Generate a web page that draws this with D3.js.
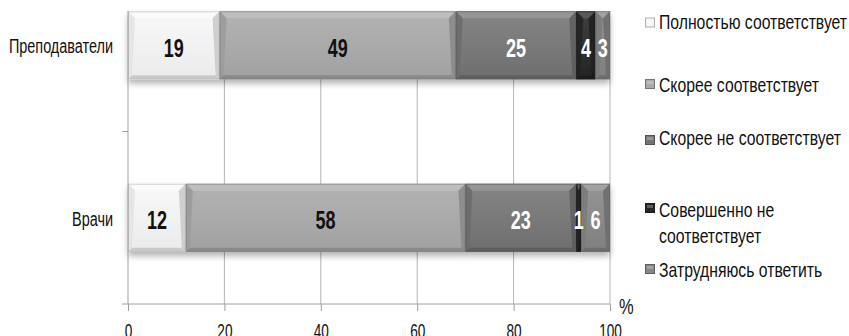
<!DOCTYPE html>
<html><head><meta charset="utf-8">
<script src="https://cdn.jsdelivr.net/npm/d3@7"></script>
<style>
html,body{margin:0;padding:0;background:#fff;}
svg{display:block;}
text{font-family:"Liberation Sans",Arial,sans-serif;}
</style></head>
<body><svg id="c" width="849" height="336"></svg>
<script>
const categories = ["Преподаватели", "Врачи"];
const seriesNames = ["Полностью соответствует", "Скорее соответствует", "Скорее не соответствует", "Совершенно не соответствует", "Затрудняюсь ответить"];
const s1 = [19, 12];
const s2 = [49, 58];
const s3 = [25, 23];
const s4 = [4, 1];
const s5 = [3, 6];
const xTicks = [0, 20, 40, 60, 80, 100];

const seriesValues = [s1, s2, s3, s4, s5];
const baseColors = ["#f7f7f7", "#a9a9a9", "#747474", "#262626", "#868686"];
const labelColors = ["#111", "#111", "#fff", "#fff", "#fff"];

const svg = d3.select("#c");
const plotTop = 11, plotBottom = 304;
const x = d3.scaleLinear().domain([0, 100]).range([128, 610]);
const y = d3.scaleBand().domain(categories).range([-41, 304]).paddingInner(0.606).paddingOuter(0.303);

function condense(sel, factor) {
  sel.each(function () {
    const w = this.getComputedTextLength();
    d3.select(this).attr("textLength", w * factor).attr("lengthAdjust", "spacingAndGlyphs");
  });
}

const defs = svg.append("defs");
const f = defs.append("filter").attr("id", "sh").attr("x", "-5%").attr("y", "-20%").attr("width", "110%").attr("height", "150%");
f.append("feDropShadow").attr("dx", 0).attr("dy", 4).attr("stdDeviation", 3).attr("flood-color", "#000").attr("flood-opacity", 0.3);

// gridlines
svg.append("g").selectAll("line").data(xTicks.filter(d => d > 0)).join("line")
  .attr("x1", d => x(d)).attr("x2", d => x(d)).attr("y1", plotTop).attr("y2", plotBottom)
  .attr("stroke", "#b4b4b4").attr("stroke-width", 1);

const rows = categories.map((c, i) => {
  let acc = 0;
  return seriesValues.map((s, k) => { const o = {cat: c, k, v: s[i], x0: acc, x1: acc + s[i]}; acc += s[i]; return o; });
});

function shade(col, t) { return t > 0 ? d3.interpolateRgb(col, "#fff")(t) : d3.interpolateRgb(col, "#000")(-t); }

rows.forEach(row => {
  const g = svg.append("g").attr("filter", "url(#sh)");
  row.forEach(d => {
    const x0 = x(d.x0), x1 = x(d.x1), y0 = y(d.cat), h = y.bandwidth(), y1 = y0 + h;
    const c = baseColors[d.k];
    const gid = "g" + d.k;
    if (defs.select("#" + gid).empty()) {
      const lg = defs.append("linearGradient").attr("id", gid).attr("x1", 0).attr("y1", 0).attr("x2", 0).attr("y2", 1);
      lg.append("stop").attr("offset", "0%").attr("stop-color", shade(c, 0.12));
      lg.append("stop").attr("offset", "100%").attr("stop-color", shade(c, -0.05));
    }
    g.append("rect").attr("x", x0).attr("y", y0).attr("width", x1 - x0).attr("height", h).attr("fill", `url(#${gid})`);
    const b = Math.min(7, (x1 - x0) / 2);
    const bt = 7, bb = 4;
    g.append("path").attr("d", `M${x0},${y0}L${x1},${y0}L${x1 - b},${y0 + bt}L${x0 + b},${y0 + bt}Z`).attr("fill", shade(c, 0.25)).attr("opacity", 0.9);
    g.append("path").attr("d", `M${x0},${y1}L${x1},${y1}L${x1 - Math.min(b, bb)},${y1 - bb}L${x0 + Math.min(b, bb)},${y1 - bb}Z`).attr("fill", shade(c, -0.2)).attr("opacity", 0.9);
    g.append("path").attr("d", `M${x0},${y0}L${x0 + b},${y0 + bt}L${x0 + Math.min(b, bb)},${y1 - bb}L${x0},${y1}Z`).attr("fill", shade(c, -0.08)).attr("opacity", 0.9);
    g.append("path").attr("d", `M${x1},${y0}L${x1 - b},${y0 + bt}L${x1 - Math.min(b, bb)},${y1 - bb}L${x1},${y1}Z`).attr("fill", shade(c, -0.18)).attr("opacity", 0.9);
    g.append("rect").attr("x", x0 + 0.5).attr("y", y0 + 0.5).attr("width", x1 - x0 - 1).attr("height", h - 1).attr("fill", "none").attr("stroke", shade(c, -0.25)).attr("stroke-width", 1).attr("opacity", 0.6);
  });
  const gl = svg.append("g");
  row.forEach(d => {
    gl.append("text").attr("x", (x(d.x0) + x(d.x1)) / 2).attr("y", y(d.cat) + y.bandwidth() / 2 + 11.5)
      .attr("text-anchor", "middle").attr("font-size", 25).attr("font-weight", "bold")
      .attr("fill", labelColors[d.k]).text(d.v);
  });
  condense(gl.selectAll("text"), 0.72);
});

// axes
const yAxisX = x(0);
svg.append("line").attr("x1", yAxisX).attr("x2", yAxisX).attr("y1", plotTop).attr("y2", plotBottom).attr("stroke", "#a0a0a0");
svg.append("line").attr("x1", 122).attr("x2", x(100)).attr("y1", plotBottom).attr("y2", plotBottom).attr("stroke", "#a0a0a0");
const sepY = y("Врачи") - (y.step() - y.bandwidth()) / 2;
svg.append("line").attr("x1", 122).attr("x2", yAxisX).attr("y1", sepY).attr("y2", sepY).attr("stroke", "#a0a0a0");
const xAxis = d3.axisBottom(x).tickValues(xTicks).tickSize(7).tickPadding(0);
const ax = svg.append("g").attr("transform", `translate(0,${plotBottom})`).call(xAxis);
ax.select(".domain").remove();
ax.selectAll(".tick line").attr("stroke", "#a0a0a0");
ax.selectAll(".tick text").attr("font-size", 20).attr("fill", "#111").attr("dy", null).attr("y", 34)
  .style("font-family", '"Liberation Sans",Arial,sans-serif');
condense(ax.selectAll(".tick text"), 0.68);

const yAxis = d3.axisLeft(y).tickSize(0).tickPadding(15);
const ay = svg.append("g").attr("transform", `translate(${yAxisX},0)`).call(yAxis);
ay.select(".domain").remove();
ay.selectAll(".tick text").attr("font-size", 19.5).attr("fill", "#111").attr("dy", null).attr("y", 8)
  .style("font-family", '"Liberation Sans",Arial,sans-serif');
condense(ay.selectAll(".tick text"), 0.74);

const pct = svg.append("text").attr("x", 619).attr("y", 314).attr("font-size", 22).attr("fill", "#111").text("%");
condense(pct, 0.75);

// legend
const legendRows = [
  {lines: [seriesNames[0]], m: 22.5, b: 29},
  {lines: ["Скорее соответствует"], m: 84, b: 92},
  {lines: ["Скорее не соответствует"], m: 140, b: 145},
  {lines: ["Совершенно не", "соответствует"], m: 208, b: 217},
  {lines: [seriesNames[4]], m: 269, b: 277}
];
const lg = svg.append("g");
legendRows.forEach((r, k) => {
  const c = baseColors[k];
  lg.append("rect").attr("x", 645.5).attr("y", r.m - 4.5).attr("width", 9).attr("height", 9)
    .attr("fill", c).attr("stroke", shade(c, -0.3)).attr("stroke-width", 1);
  lg.append("rect").attr("x", 647).attr("y", r.m - 3).attr("width", 6).attr("height", 3).attr("fill", shade(c, 0.25));
  r.lines.forEach((ln, j) => {
    lg.append("text").attr("x", 659).attr("y", r.b + j * 26).attr("font-size", 21).attr("fill", "#111").text(ln);
  });
});
condense(lg.selectAll("text"), 0.75);
</script></body></html>
